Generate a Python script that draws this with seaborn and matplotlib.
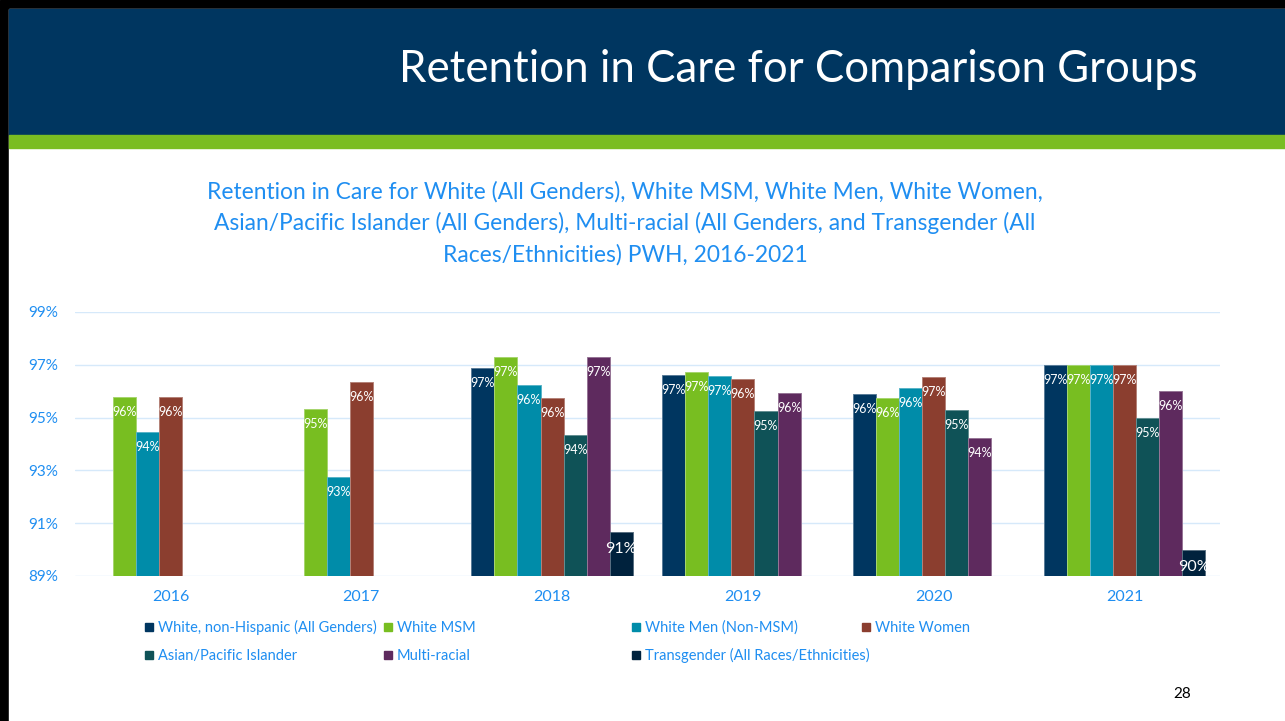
import seaborn as sns
import pandas as pd
import numpy as np
import matplotlib.pyplot as plt
from matplotlib.patches import Rectangle
from matplotlib.colors import to_rgb

# data
years = ['2016', '2017', '2018', '2019', '2020', '2021']
groups = ['White, non-Hispanic (All Genders)', 'White MSM', 'White Men (Non-MSM)',
          'White Women', 'Asian/Pacific Islander', 'Multi-racial',
          'Transgender (All Races/Ethnicities)']
white_all = [np.nan, np.nan, 96.88, 96.61, 95.91, 97.0]
white_msm = [95.78, 95.33, 97.30, 96.71, 95.75, 97.0]
white_men = [94.44, 92.74, 96.23, 96.59, 96.11, 97.0]
white_women = [95.79, 96.35, 95.73, 96.47, 96.53, 97.0]
asian_pi = [np.nan, np.nan, 94.33, 95.24, 95.29, 95.0]
multi_racial = [np.nan, np.nan, 97.30, 95.92, 94.21, 96.0]
transgender = [np.nan, np.nan, 90.65, 89.0, 89.0, 90.0]

colors = ['#003660', '#78BE21', '#008CA9', '#8B3E2F', '#0F5257', '#5E2A5E', '#00223D']
blue_txt = '#1F8EF1'

series = [white_all, white_msm, white_men, white_women, asian_pi, multi_racial, transgender]
rows = []
for g, vals in zip(groups, series):
    for y, v in zip(years, vals):
        rows.append({'Year': y, 'Group': g, 'Value': v})
df = pd.DataFrame(rows).dropna()

sns.set_style('white')
plt.rcParams['font.family'] = ['Lato', 'DejaVu Sans']

fig = plt.figure(figsize=(12.85, 7.21), dpi=100)
W, H = 1285, 721

# slide decoration: black frame, navy header, green band
fig.patches.append(Rectangle((0, 0), 1, 1, transform=fig.transFigure, color='black', zorder=0))
fig.patches.append(Rectangle((9 / W, 0), 1, 1 - 9 / H, transform=fig.transFigure, color='white', zorder=0))
fig.patches.append(Rectangle((9 / W, 1 - 135 / H), 1, 126 / H, transform=fig.transFigure,
                             color='#003660', zorder=1))
fig.patches.append(Rectangle((9 / W, 1 - 148 / H), 1, 13 / H, transform=fig.transFigure,
                             color='#7ABD22', zorder=1))
fig.text(1198 / W, 1 - 70 / H, 'Retention in Care for Comparison Groups', color='white',
         fontsize=31.5, ha='right', va='center')
fig.text(625 / W, 1 - 223 / H,
         'Retention in Care for White (All Genders), White MSM, White Men, White Women,\n'
         'Asian/Pacific Islander (All Genders), Multi-racial (All Genders, and Transgender (All\n'
         'Races/Ethnicities) PWH, 2016-2021',
         color=blue_txt, fontsize=16.4, ha='center', va='center', linespacing=1.55)
fig.text(1182 / W, 1 - 694 / H, '28', color='black', fontsize=11, ha='center', va='center')

ax = fig.add_axes([75 / W, 1 - 576 / H, (1220 - 75) / W, (576 - 312) / H])
ax.set_zorder(5)
ax.set_facecolor('none')
sns.barplot(data=df, x='Year', y='Value', hue='Group', hue_order=groups, order=years,
            palette=colors, width=0.847, dodge=True, saturation=1, ax=ax, legend=False,
            linewidth=0.7, err_kws={'linewidth': 0})

for p in ax.patches:
    fc = np.array(to_rgb(p.get_facecolor()))
    p.set_edgecolor(fc + (1 - fc) * 0.35)

for c, g in zip(ax.containers, groups):
    for p in c:
        h = p.get_height()
        if np.isnan(h) or h <= 89.05:
            continue
        big = g.startswith('Transgender')
        ax.annotate(f'{h:.0f}%', (p.get_x() + p.get_width() / 2, h),
                    xytext=(0, -17 if big else -15), textcoords='offset pixels',
                    ha='center', va='center', color='white', fontsize=11.5 if big else 9)

ax.set_ylim(89, 99)
ax.set_yticks([89, 91, 93, 95, 97, 99])
ax.set_yticklabels([f'{t}%' for t in [89, 91, 93, 95, 97, 99]])
ax.set_xlabel('')
ax.set_ylabel('')
ax.grid(axis='y', color='#D6E9FA', linewidth=1)
ax.set_axisbelow(True)
sns.despine(ax=ax, left=True, bottom=True)
ax.tick_params(axis='both', length=0, labelcolor=blue_txt, labelsize=11)
ax.tick_params(axis='y', pad=12)
ax.tick_params(axis='x', pad=10, labelsize=11.5)

# legend: four uneven columns, two rows, as on the slide
legend_pos = [(145, 627), (384, 627), (632, 627), (862, 627),
              (145, 655), (384, 655), (632, 655)]
legend_idx = [0, 1, 2, 3, 4, 5, 6]
for (x, y), i in zip(legend_pos, legend_idx):
    fig.patches.append(Rectangle((x / W, 1 - (y + 4) / H), 8 / W, 8 / H,
                                 transform=fig.transFigure, color=colors[i], zorder=3))
    fig.text((x + 13) / W, 1 - (y + 5) / H, groups[i], color=blue_txt, fontsize=10.5,
             ha='left', va='baseline')

fig.savefig('out.png', dpi=100)
